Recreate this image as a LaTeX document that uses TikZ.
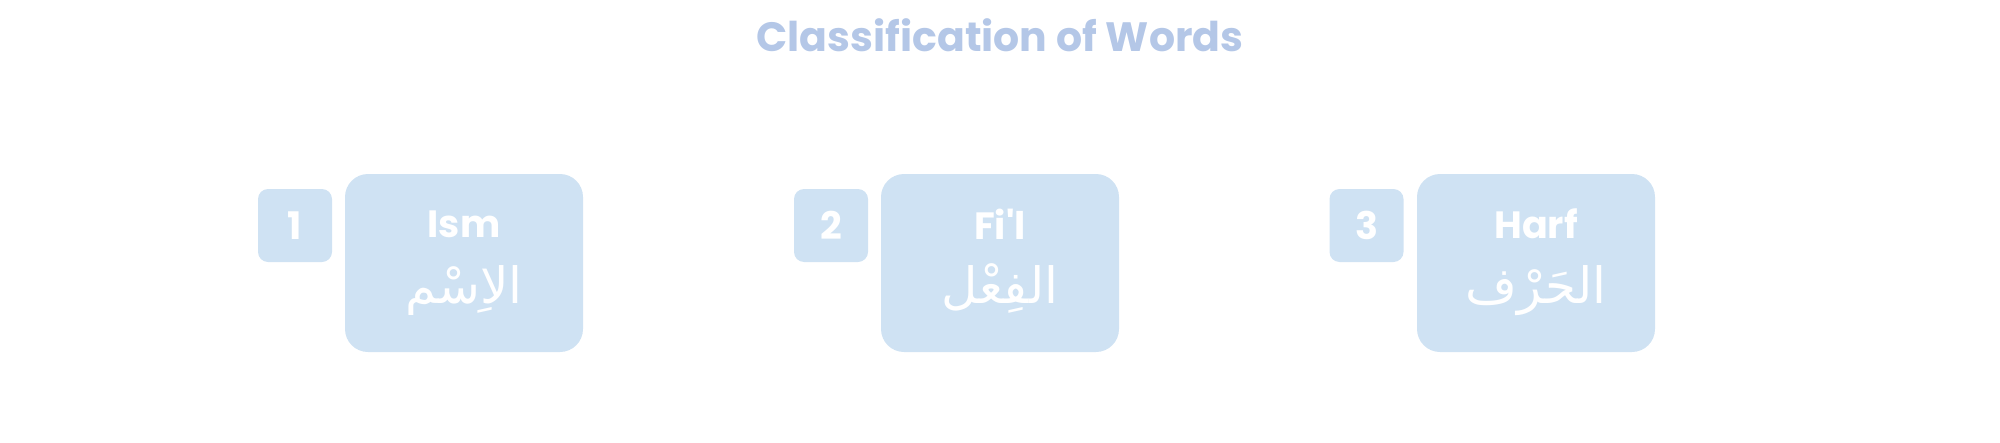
\documentclass[tikz,border=0pt]{standalone}
\usepackage{fontspec}
\setmainfont{Poppins}[Ligatures=TeXOff]
\newfontfamily\arabicfont[Script=Arabic]{DejaVu Sans}
\TeXXeTstate=1
\definecolor{boxblue}{HTML}{CFE2F3}
\definecolor{titleblue}{HTML}{B4C7E7}
\tikzset{
  mainbox/.style={fill=boxblue, draw=none, rounded corners=23pt, minimum width=238pt, minimum height=178pt, inner sep=0pt},
  numbox/.style={fill=boxblue, draw=none, rounded corners=10pt, minimum width=74pt, minimum height=73pt, inner sep=0pt, text=white, font=\fontsize{38}{40}\selectfont\bfseries},
  latlabel/.style={text=white, inner sep=0pt, font=\fontsize{38}{40}\selectfont\bfseries},
  arlabel/.style={text=white, inner sep=0pt, anchor=base, font=\fontsize{50}{54}\selectfont\arabicfont},
  titlestyle/.style={text=titleblue, inner sep=0pt, font=\fontsize{41}{44}\selectfont\bfseries}
}
\begin{document}
\begin{tikzpicture}[x=1pt,y=-1pt]
\useasboundingbox (0,0) rectangle (2000,442);
\node[titlestyle] (title) at (1000,35) {Classification of Words};

\node[numbox] (n1) at (295,225.5) {1};
\node[mainbox] (b1) at (464,263) {};
\node[latlabel] (l1) at (464,224) {Ism};
\node[arlabel] (a1) at (464,303) {\beginR الاِسْم\endR};

\node[numbox] (n2) at (831,225.5) {2};
\node[mainbox] (b2) at (1000,263) {};
\node[latlabel] (l2) at (1000,224) {Fi'l};
\node[arlabel] (a2) at (1000,303) {\beginR الفِعْل\endR};

\node[numbox] (n3) at (1366.5,225.5) {3};
\node[mainbox] (b3) at (1536,263) {};
\node[latlabel] (l3) at (1536,224) {Harf};
\node[arlabel] (a3) at (1536,303) {\beginR الحَرْف\endR};
\end{tikzpicture}
\end{document}
